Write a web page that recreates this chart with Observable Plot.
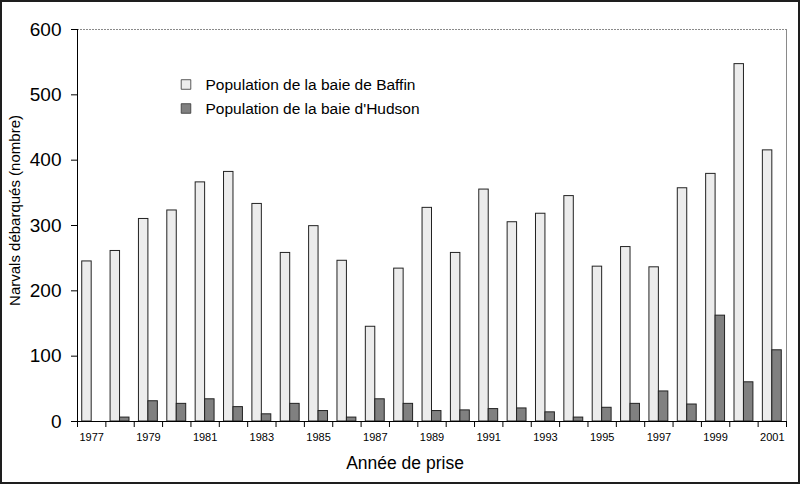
<!DOCTYPE html>
<html>
<head>
<meta charset="utf-8">
<script src="https://cdn.jsdelivr.net/npm/d3@7"></script>
<script src="https://cdn.jsdelivr.net/npm/@observablehq/plot@0.6"></script>
<style>
  html, body { margin: 0; padding: 0; background: #fff; }
  #frame { width: 800px; height: 484px; box-sizing: border-box; border: 2px solid #1e1e1e; background: #fff; overflow: hidden; }
  #frame svg { display: block; }
</style>
</head>
<body>
<div id="frame"></div>
<script>
const years = d3.range(1977, 2002);
const baffin = [245, 261, 310, 323, 366, 382, 333, 258, 299, 246, 145, 234, 327, 258, 355, 305, 318, 345, 237, 267, 236, 357, 379, 547, 415];
const hudson = [0, 6, 31, 27, 34, 22, 11, 27, 16, 6, 34, 27, 16, 17, 19, 20, 14, 6, 21, 27, 46, 26, 162, 60, 109];
const seriesNames = ["Population de la baie de Baffin", "Population de la baie d'Hudson"];
const seriesColors = ["#ececec", "#808080"];
const yTicks = [0, 100, 200, 300, 400, 500, 600];
const xLabelYears = years.filter(y => y % 2 === 1);
const yTitle = "Narvals débarqués (nombre)";
const xTitle = "Année de prise";

const table = years.map((year, i) => ({year, baffin: baffin[i], hudson: hudson[i]}));
const boundaries = d3.range(years[0] - 0.5, years[years.length - 1] + 1, 1);
const third = 1 / 3;

const legendMarks = seriesNames.flatMap((name, i) => [
  Plot.dot([name], {frameAnchor: "top-left", symbol: "square", r: 5.4, dx: 108.5, dy: 55 + i * 24, fill: seriesColors[i], stroke: "#333", strokeWidth: 0.8}),
  Plot.text([name], {text: d => d, frameAnchor: "top-left", textAnchor: "start", lineAnchor: "middle", dx: 128, dy: 56 + i * 23.5, fontSize: 15.5})
]);

const chart = Plot.plot({
  width: 796,
  height: 480,
  marginLeft: 75,
  marginTop: 27,
  marginRight: 12,
  marginBottom: 61,
  style: {fontFamily: "'Liberation Sans', Arial, sans-serif", color: "#000", background: "#fff"},
  x: {type: "linear", domain: [years[0] - 0.5, years[years.length - 1] + 0.5]},
  y: {domain: [0, 600]},
  marks: [
    Plot.ruleY([600], {stroke: "#8a8a8a", strokeDasharray: "2,1"}),
    Plot.ruleX([years[years.length - 1] + 0.5], {stroke: "#8a8a8a"}),
    Plot.rectY(table, {x1: d => d.year - third, x2: d => d.year, y: "baffin", fill: seriesColors[0], stroke: "#222", strokeWidth: 1}),
    Plot.rectY(table, {x1: d => d.year, x2: d => d.year + third, y: "hudson", fill: seriesColors[1], stroke: "#222", strokeWidth: 1}),
    Plot.axisY({ticks: yTicks, tickSize: 6, tickPadding: 10, fontSize: 19, label: null, tickFormat: d => String(d)}),
    Plot.axisX({ticks: boundaries, tickSize: 6, tickFormat: () => "", label: null}),
    Plot.axisX({ticks: xLabelYears, tickSize: 0, tickPadding: 12, fontSize: 11, label: null, tickFormat: d => String(d)}),
    Plot.ruleX([years[0] - 0.5], {stroke: "#000"}),
    Plot.ruleY([0], {stroke: "#000"}),
    Plot.text([yTitle], {text: d => d, frameAnchor: "left", rotate: -90, textAnchor: "middle", lineAnchor: "middle", dx: -62, dy: -15, fontSize: 15}),
    Plot.text([xTitle], {text: d => d, frameAnchor: "bottom", textAnchor: "middle", lineAnchor: "middle", dx: -27, dy: 42, fontSize: 17.5}),
    ...legendMarks
  ]
});

document.getElementById("frame").appendChild(chart);
</script>
</body>
</html>
